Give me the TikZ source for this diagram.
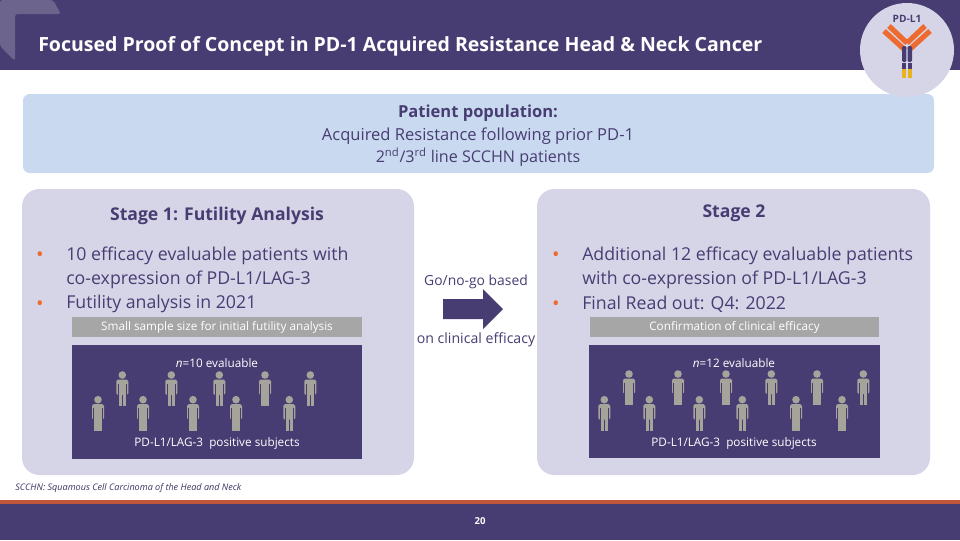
\documentclass[tikz,border=0pt]{standalone}
\usepackage{fontspec}
\setmainfont{Open Sans}
\usetikzlibrary{calc}
\definecolor{navy}{HTML}{483D72}
\definecolor{lilac}{HTML}{D6D5E8}
\definecolor{paleblue}{HTML}{C9DAF0}
\definecolor{rustc}{HTML}{C0563A}
\definecolor{grayc}{HTML}{A6A6A6}
\definecolor{personc}{HTML}{A5A39A}
\definecolor{orangec}{HTML}{EE6A2E}
\definecolor{goldc}{HTML}{E8B41E}
\newcommand{\fs}[1]{\fontsize{#1}{#1}\selectfont}
\newcommand{\person}[2]{%
  \fill[personc] (#1,#2) circle (3.8);
  \fill[personc,rounded corners=1.2] ($(#1,#2)+(-6,4.5)$) rectangle ($(#1,#2)+(6,20)$);
  \fill[personc] ($(#1,#2)+(-3.8,10)$) rectangle ($(#1,#2)+(-0.4,31)$);
  \fill[personc] ($(#1,#2)+(0.4,10)$) rectangle ($(#1,#2)+(3.8,31)$);
  \fill[navy] ($(#1,#2)+(-4.8,8.5)$) rectangle ($(#1,#2)+(-3.8,20.5)$);
  \fill[navy] ($(#1,#2)+(3.8,8.5)$) rectangle ($(#1,#2)+(4.8,20.5)$);
}
\tikzset{
  stagebox/.style={fill=lilac,rounded corners=13},
  panel/.style={fill=navy},
  caption/.style={fill=grayc,text=white,minimum height=20*0.75pt,inner sep=0pt,font=\fs{8.8}},
  panellabel/.style={text=white,inner sep=0pt,font=\fs{8.8}},
  bodytext/.style={text=navy,inner sep=0pt,align=left,anchor=north west,font=\fs{13.3}},
  headtext/.style={text=navy,inner sep=0pt,font=\bfseries\fs{13.2}},
  bulletmark/.style={text=orangec,inner sep=0pt,font=\fs{15}},
  arm/.style={line width=3.9pt,orangec},
}
\begin{document}
\begin{tikzpicture}[x=0.75pt,y=-0.75pt]
\useasboundingbox (0,0) rectangle (960,540);
\fill[white] (0,0) rectangle (960,540);
% header band
\fill[navy] (0,0) rectangle (960,70);
\fill[white!20!navy,rounded corners=2] (0,0) -- (53,0) -- (61,14) -- (15,14) -- (15,61) -- (0,46) -- cycle;
\node[anchor=west,inner sep=0pt,text=white,font=\bfseries\fs{14.65}] (title) at (38,46) {Focused Proof of Concept in PD-1 Acquired Resistance Head \& Neck Cancer};
% population box
\fill[paleblue,rounded corners=5] (23,94) rectangle (934,173);
\node[headtext,font=\bfseries\fs{12.4}] (pophead) at (478,113) {Patient population:};
\node[text=navy,inner sep=0pt,font=\fs{12.4}] (pop1) at (478,136) {Acquired Resistance following prior PD-1};
\node[text=navy,inner sep=0pt,font=\fs{12.1}] (pop2) at (478,157.5) {2\textsuperscript{nd}/3\textsuperscript{rd} line SCCHN patients};
% badge
\fill[lilac] (907,50) circle (47);
\node[text=navy,inner sep=0pt,font=\bfseries\fs{7.6}] (badge) at (907,19) {PD-L1};
\begin{scope}
  \draw[arm] (884,31) -- (905,50);
  \draw[arm] (889,26) -- (907,43);
  \draw[arm] (930,31) -- (909,50);
  \draw[arm] (925,26) -- (907,43);
  \fill[navy,rounded corners=1] (902,46) rectangle (906.4,62);
  \fill[navy,rounded corners=1] (907.6,46) rectangle (912,62);
  \fill[navy] (902,63) rectangle (906.4,69);
  \fill[navy] (907.6,63) rectangle (912,69);
  \fill[goldc] (902,69) rectangle (906.4,78);
  \fill[goldc] (907.6,69) rectangle (912,78);
\end{scope}
% stage boxes
\fill[stagebox] (22,189) rectangle (414,475);
\fill[stagebox] (537,189) rectangle (930,475);
\node[headtext] (s1head) at (217,216) {Stage 1: Futility Analysis};
\node[headtext] (s2head) at (734,213) {Stage 2};
% stage 1 bullets
\node[bulletmark] at (40,257) {•};
\node[bodytext] (s1a) at (66,246.5) {10 efficacy evaluable patients with\\[3.4pt]co-expression of PD-L1/LAG-3};
\node[bulletmark] at (40,306) {•};
\node[bodytext,anchor=west] (s1b) at (66,304) {Futility analysis in 2021};
% stage 2 bullets
\node[bulletmark] at (556,257) {•};
\node[bodytext] (s2a) at (582,246.5) {Additional 12 efficacy evaluable patients\\[3.4pt]with co-expression of PD-L1/LAG-3};
\node[bulletmark] at (556,306) {•};
\node[bodytext,anchor=west] (s2b) at (582,304) {Final Read out: Q4: 2022};
% captions
\node[caption,minimum width=290*0.75pt] (cap1) at (217,327) {\raisebox{-0.8pt}{Small sample size for initial futility analysis}};
\node[caption,minimum width=289*0.75pt] (cap2) at (734.5,327) {\raisebox{-0.8pt}{Confirmation of clinical efficacy}};
% panels
\fill[panel] (72,345) rectangle (362,459);
\fill[panel] (589,345) rectangle (880,458);
\node[panellabel] (n1) at (217,363) {\textit{n}=10 evaluable};
\node[panellabel] (n2) at (734,363) {\textit{n}=12 evaluable};
\node[panellabel] (p1) at (217,443) {PD-L1/LAG-3 \ positive subjects};
\node[panellabel] (p2) at (734,443) {PD-L1/LAG-3 \ positive subjects};
\foreach \x/\y in {98/399.7,122.3/375,143/399.7,171.3/375,193/399.7,219.3/375,236/399.7,265/375,289.3/399.7,310.3/375}{\person{\x}{\y}}
\foreach \x/\y in {604.3/399.7,629/374,649.3/399.7,678/374,699.3/399.7,726/374,742.3/399.7,771.3/374,796/399.7,817/374,842/399.7,863.3/374}{\person{\x}{\y}}
% arrow with labels
\node[text=navy,inner sep=0pt,font=\fs{10.4}] (go) at (476,282) {Go/no-go based};
\node[text=navy,inner sep=0pt,font=\fs{10.6}] (on) at (476,340) {on clinical efficacy};
\fill[navy] (443,299) -- (483,299) -- (483,289) -- (503,309) -- (483,329) -- (483,319) -- (443,319) -- cycle;
% footnote
\node[anchor=west,inner sep=0pt,text=navy!85!black,font=\itshape\fs{6.8}] (fn) at (15,488) {SCCHN: Squamous Cell Carcinoma of the Head and Neck};
% footer
\fill[rustc] (0,500) rectangle (960,504);
\fill[navy] (0,504) rectangle (960,540);
\node[text=white,inner sep=0pt,font=\bfseries\fs{7.2}] (pg) at (480,521) {20};
\end{tikzpicture}
\end{document}
